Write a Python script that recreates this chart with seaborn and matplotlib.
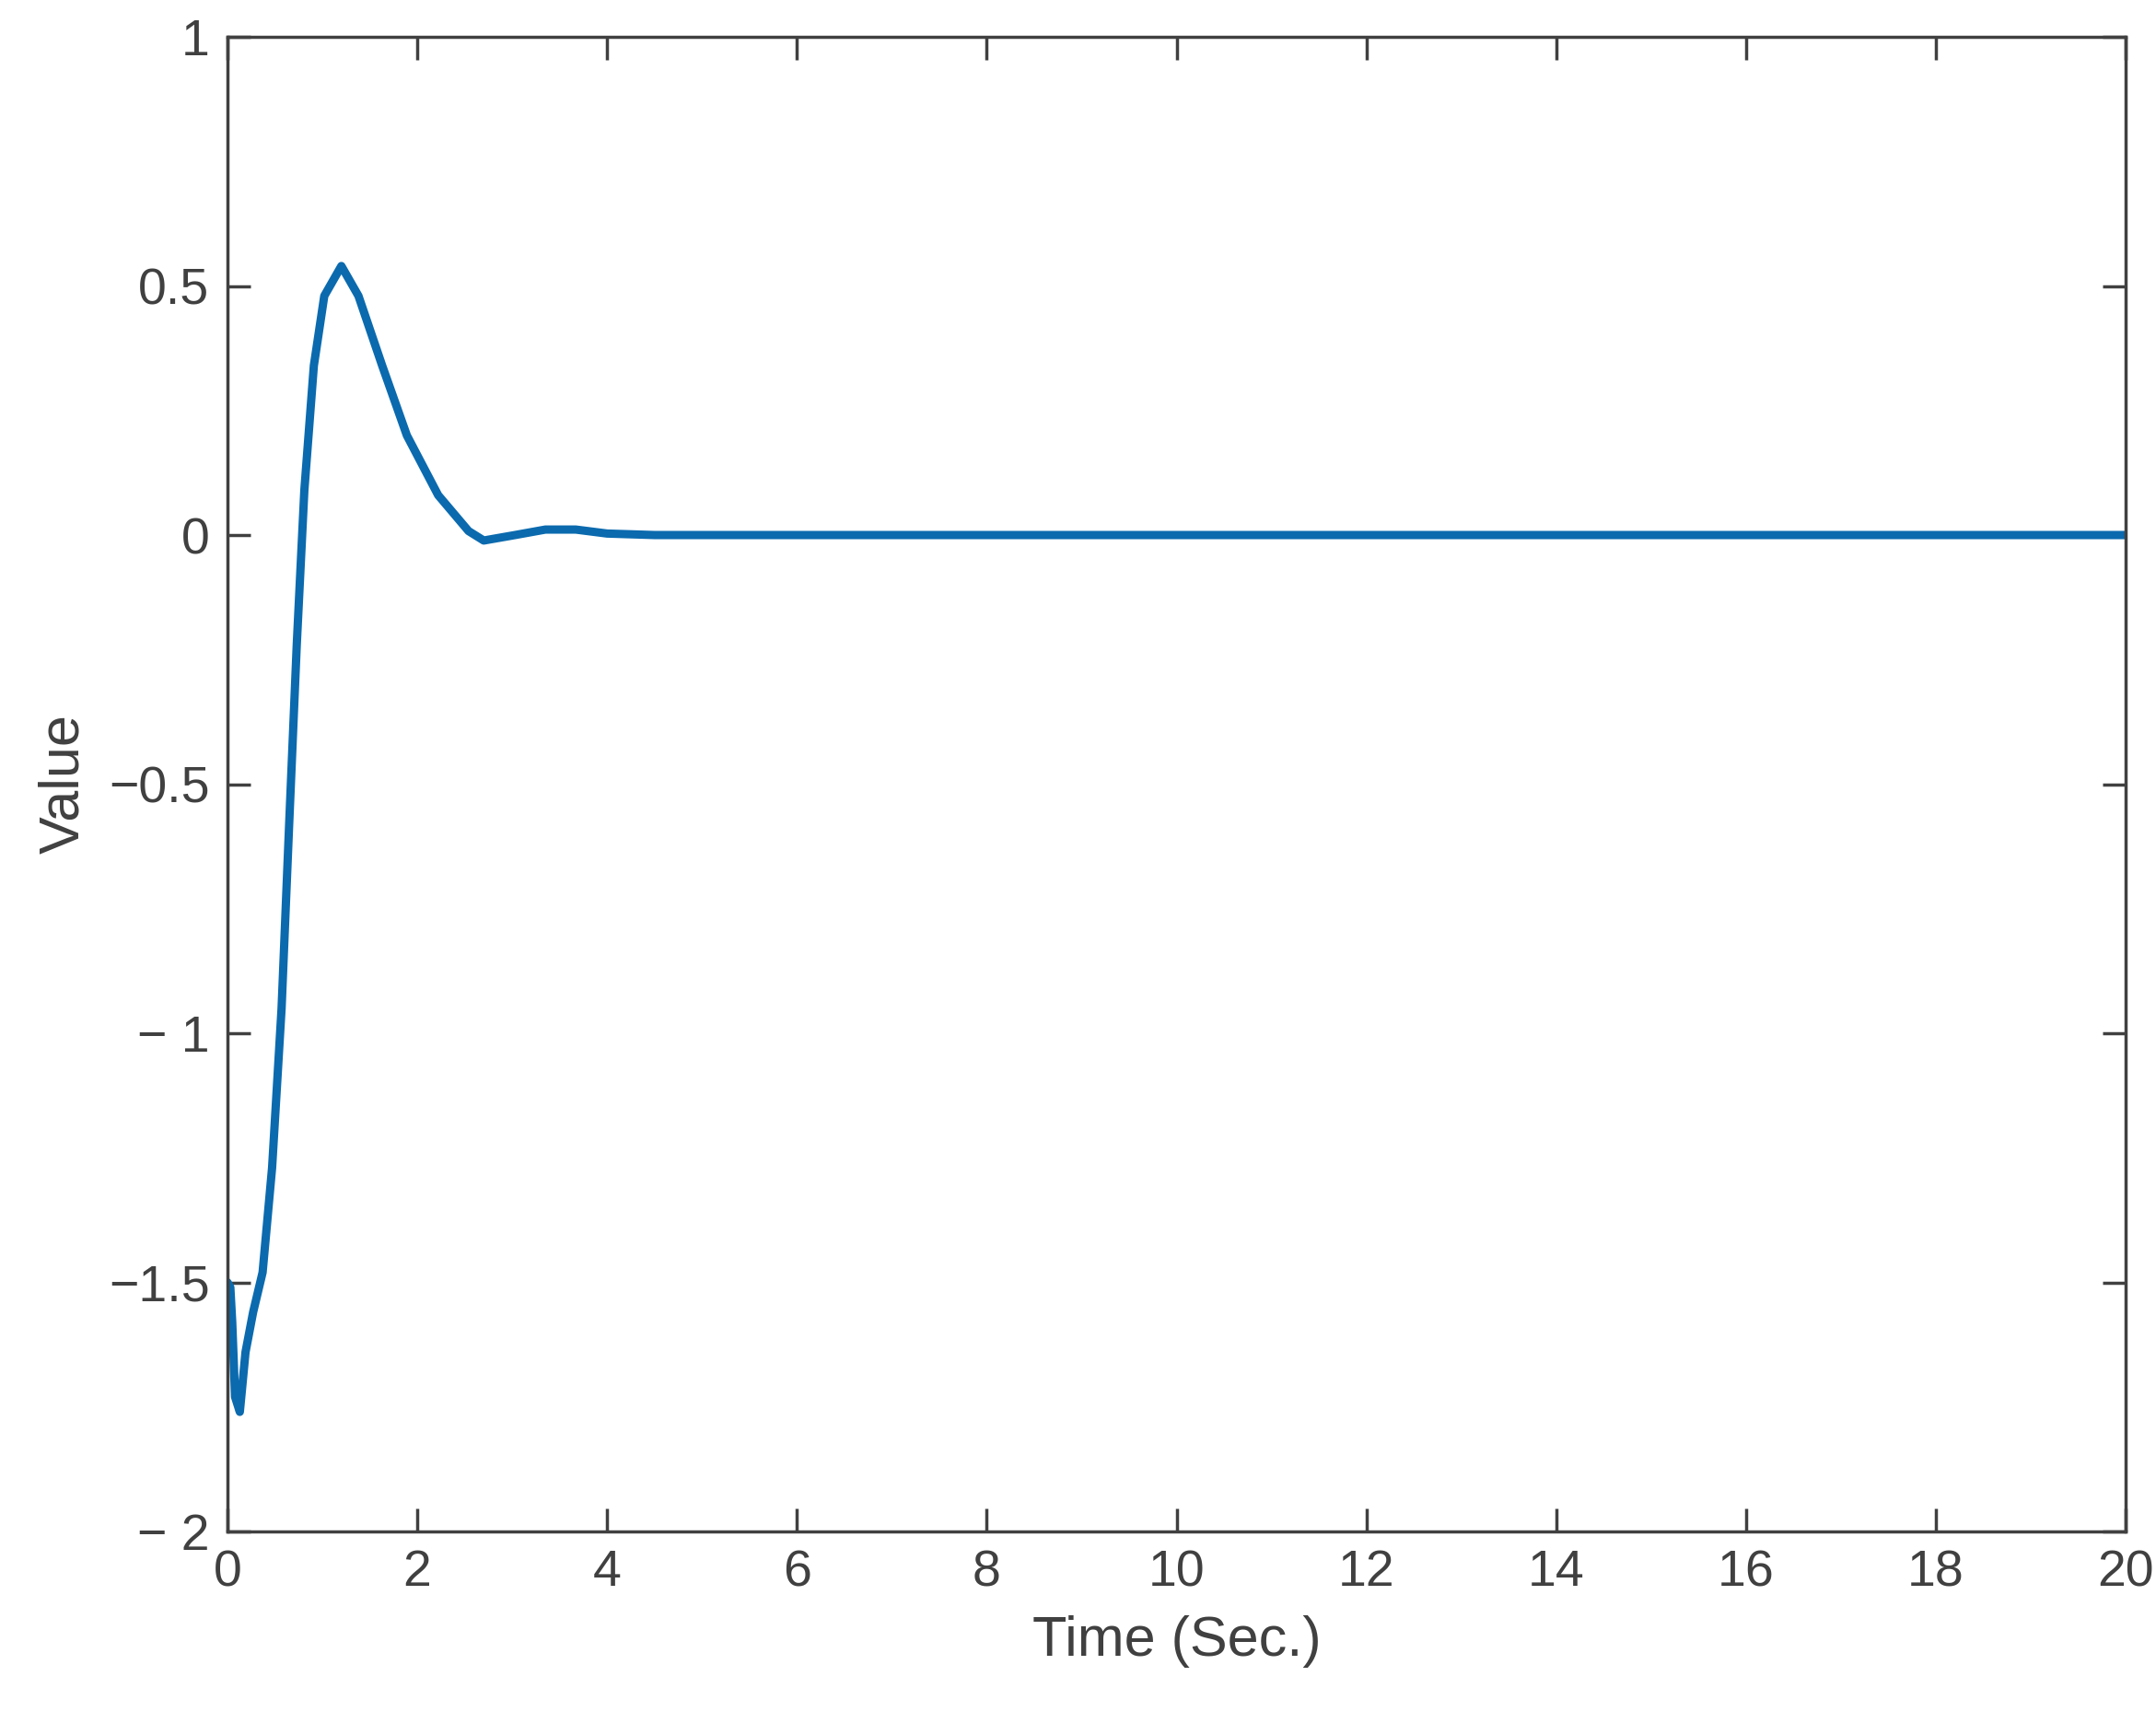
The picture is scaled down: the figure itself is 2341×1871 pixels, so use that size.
import matplotlib
matplotlib.use("Agg")
import matplotlib.pyplot as plt
import seaborn as sns
import numpy as np
import pandas as pd

time = [0.0, 0.03, 0.05, 0.08, 0.13, 0.19, 0.27, 0.37, 0.47, 0.57, 0.65, 0.73, 0.81, 0.91, 1.02, 1.20,
        1.38, 1.63, 1.89, 2.22, 2.54, 2.70, 3.03, 3.35, 3.67, 4.0, 4.5, 6, 10, 15, 20]
value = [-1.50, -1.51, -1.58, -1.73, -1.76, -1.64, -1.56, -1.48, -1.27, -0.95, -0.58, -0.22, 0.09, 0.34, 0.48, 0.54,
         0.48, 0.34, 0.20, 0.08, 0.008, -0.011, 0.0, 0.011, 0.011, 0.003, 0.0, 0.0, 0.0, 0.0, 0.0]

df = pd.DataFrame({"t": time, "v": value})
sns.set_style("white")
plt.rcParams['font.family'] = ['Liberation Sans', 'DejaVu Sans']
fig = plt.figure(figsize=(23.41, 18.71), dpi=100)
ax = fig.add_axes([247/2341, 1 - 1663/1871, (2308-247)/2341, (1663-40)/1871])
sns.lineplot(data=df, x="t", y="v", ax=ax, color="#0b6aae", linewidth=6.5)
ax.set_xlim(0, 20)
ax.set_ylim(-2, 1)
ax.set_xticks(range(0, 21, 2))
ax.set_yticks([-2, -1.5, -1, -0.5, 0, 0.5, 1])
ax.set_yticklabels(["\u2212 2", "\u22121.5", "\u2212 1", "\u22120.5", "0", "0.5", "1"])
gc = "#404040"
for s in ax.spines.values():
    s.set_color(gc); s.set_linewidth(2.5)
ax.tick_params(direction="in", length=18, width=2.5, colors=gc, labelsize=40, pad=14,
               top=True, right=True, left=True, bottom=True)
ax.set_xlabel("Time (Sec.)", fontsize=44, color=gc, labelpad=14)
ax.set_ylabel("Value", fontsize=44, color=gc, labelpad=14)
fig.savefig("out.png", dpi=100)
